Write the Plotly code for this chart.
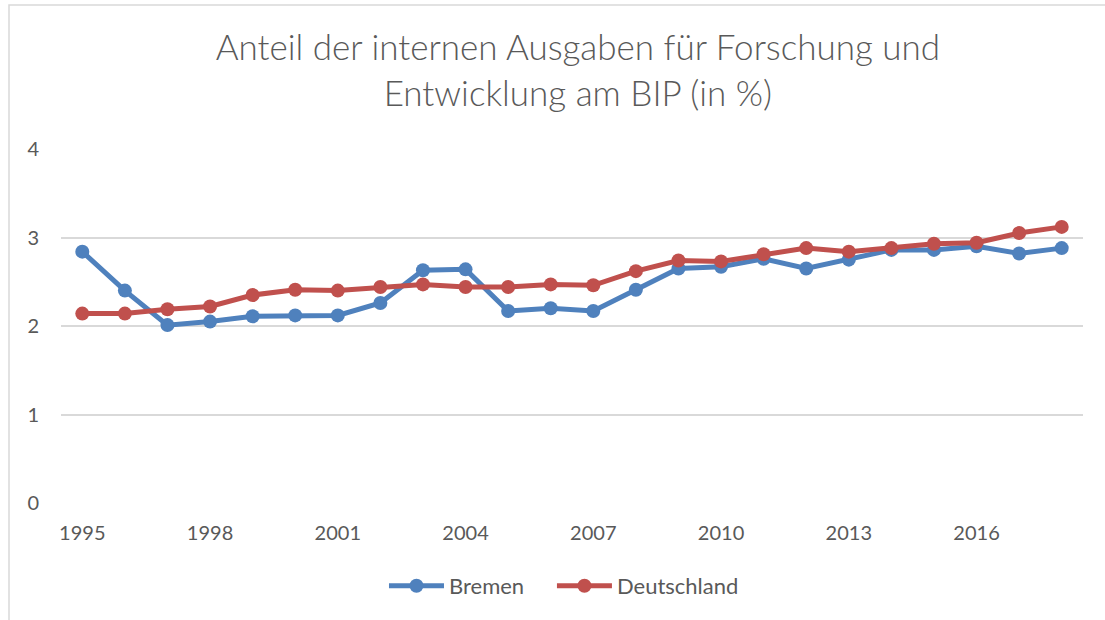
import plotly.graph_objects as go

years = list(range(1995, 2019))
bremen = [2.84, 2.40, 2.01, 2.05, 2.11, 2.12, 2.12, 2.26, 2.63, 2.64, 2.17, 2.20, 2.17, 2.41,
          2.65, 2.67, 2.76, 2.65, 2.75, 2.86, 2.86, 2.90, 2.82, 2.88]
deutschland = [2.14, 2.14, 2.19, 2.22, 2.35, 2.41, 2.40, 2.44, 2.47, 2.44, 2.44, 2.47, 2.46, 2.62,
               2.74, 2.73, 2.81, 2.88, 2.84, 2.88, 2.93, 2.94, 3.05, 3.12]
x_ticks = [1995, 1998, 2001, 2004, 2007, 2010, 2013, 2016]
y_ticks = [0, 1, 2, 3, 4]
title_text = "Anteil der internen Ausgaben für Forschung und<br>Entwicklung am BIP (in %)"

FONT = "Lato"
GREY = "#595959"

fig = go.Figure()
fig.add_trace(go.Scatter(x=years, y=bremen, name="Bremen", mode="lines+markers",
                         line=dict(color="#4f81bd", width=5),
                         marker=dict(color="#4f81bd", size=14), legend="legend"))
fig.add_trace(go.Scatter(x=years, y=deutschland, name="Deutschland", mode="lines+markers",
                         line=dict(color="#c0504d", width=5),
                         marker=dict(color="#c0504d", size=14), legend="legend2"))

legend_common = dict(orientation="h", xanchor="left", xref="container",
                     y=0.055, yref="container", yanchor="middle",
                     font=dict(family=FONT, size=22, color=GREY), itemwidth=55,
                     bgcolor="rgba(0,0,0,0)")

fig.update_layout(
    width=1105, height=620,
    margin=dict(l=61, r=22, t=149, b=117, autoexpand=False),
    paper_bgcolor="white", plot_bgcolor="white",
    font=dict(family=FONT, color=GREY, size=20),
    title=dict(text=title_text, x=0.523, xref="container", xanchor="center",
               y=0.903, yref="container", yanchor="middle",
               font=dict(family=FONT, size=35, color=GREY, weight=300)),
    showlegend=True,
    legend=dict(x=0.3475, **legend_common),
    legend2=dict(x=0.4995, **legend_common),
    xaxis=dict(range=[1994.5, 2018.5], tickmode="array", tickvals=x_ticks,
               ticktext=[str(v) for v in x_ticks], showgrid=False, zeroline=False,
               showline=False, ticks="outside", ticklen=12, tickcolor="rgba(0,0,0,0)",
               tickfont=dict(family=FONT, size=20, color=GREY)),
    yaxis=dict(range=[0, 4], tickmode="array", tickvals=y_ticks, showgrid=True,
               gridcolor="#d9d9d9", gridwidth=1.5, zeroline=False, showline=False,
               ticks="outside", ticklen=17, tickcolor="rgba(0,0,0,0)",
               tickfont=dict(family=FONT, size=20, color=GREY)),
    shapes=[dict(type="rect", xref="paper", yref="paper",
                 x0=-52 / 1022, x1=1.2, y0=-0.5, y1=1 + 144 / 354,
                 line=dict(color="#d9d9d9", width=1.5), fillcolor="rgba(0,0,0,0)", layer="below")],
)

fig.write_html("out.html", config={"displayModeBar": False},
               post_script="document.body.style.margin='0';document.body.style.overflow='hidden';")
